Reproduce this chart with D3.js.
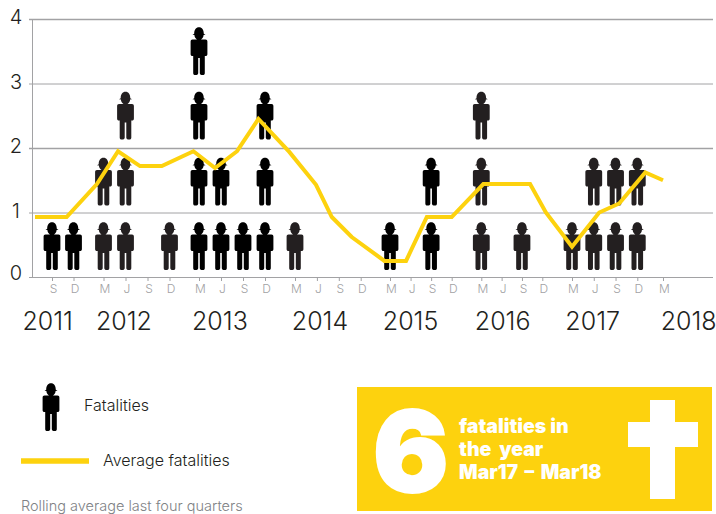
<!DOCTYPE html>
<html>
<head>
<meta charset="utf-8">
<script src="https://cdnjs.cloudflare.com/ajax/libs/d3/7.8.5/d3.min.js"></script>
<style>
  html, body { margin: 0; padding: 0; background: #fff; }
  svg { display: block; font-family: Inter, sans-serif; }
</style>
</head>
<body>
<div id="chart"></div>
<script>
// Quarter labels, starting at Sep 2011 and ending at Mar 2018
const quarters = ["S","D","M","J","S","D","M","J","S","D","M","J","S","D","M","J","S","D","M","J","S","D","M","J","S","D","M"];
// Fatalities for each quarter
const fatalities = [1,1,2,3,0,1,4,2,1,3,1,0,0,0,1,0,2,0,3,0,1,0,1,2,2,2,0];
// Year of each quarter, used for the icon tone
const quarterYears = [2011,2011,2012,2012,2012,2012,2013,2013,2013,2013,2014,2014,2014,2014,2015,2015,2015,2015,2016,2016,2016,2016,2017,2017,2017,2017,2018];
const blackYears = [2011,2013,2015];

// Rolling average, position is in quarter units (the line sits a bit left of the ticks)
const avgQuarter = [-0.79,0.68,1.78,2.66,3.66,4.65,5.81,6.73,7.73,8.7,9.81,10.96,11.68,12.59,13.81,14.78,15.79,17,18.1,20.4,21.12,22,23.25,24.17,25.31,26];
const avgValue = [0.93,0.93,1.44,1.95,1.72,1.72,1.95,1.69,1.95,2.45,1.94,1.43,0.93,0.62,0.25,0.25,0.93,0.93,1.44,1.44,1.0,0.47,1.0,1.14,1.62,1.5];

const years = ["2011","2012","2013","2014","2015","2016","2017","2018"];
const yearQuarter = [-0.2,2.93,6.95,11.14,15,19.05,22.95,27];
const yTicks = [0,1,2,3,4];

const width = 716;
const height = 514;
const yellow = "#fdd20e";

const svg = d3.select("#chart")
    .append("svg")
    .attr("width", width)
    .attr("height", height);

// The quarters are not evenly spaced, there is a wider gap between Dec and Mar
const x = d3.scaleLinear()
    .domain([0,1,2,5,6,9,10,13,14,17,18,21,22,25,26])
    .range([52,73.5,103.5,169.5,199,265,295,360.7,390,451.7,481.3,542.3,572,637.3,663]);

const y = d3.scaleLinear()
    .domain([0,4])
    .range([277,19]);

// Gridlines
svg.append("g")
    .selectAll("line")
    .data(yTicks)
    .join("line")
    .attr("x1", 29)
    .attr("x2", 713)
    .attr("y1", d => y(d) + 0.5)
    .attr("y2", d => y(d) + 0.5)
    .attr("stroke", "#a2a2a4")
    .attr("stroke-width", d => d % 2 === 0 && d > 0 ? 1.5 : 1);

svg.append("line")
    .attr("x1", 32.5).attr("x2", 32.5)
    .attr("y1", y(4)).attr("y2", y(0))
    .attr("stroke", "#a2a2a4");

// Y labels
svg.append("g")
    .selectAll("text")
    .data(yTicks)
    .join("text")
    .attr("x", 16)
    .attr("y", d => d === 0 ? y(d) + 3 : y(d) + 5)
    .attr("text-anchor", "middle")
    .attr("font-size", 20)
    .attr("font-weight", 300)
    .attr("fill", "#231f20")
    .text(d => d);

// Quarter ticks and labels
const quarterAxis = d3.axisBottom(x)
    .tickValues(d3.range(quarters.length))
    .tickSize(4)
    .tickFormat(i => quarters[i]);

const axisG = svg.append("g")
    .attr("transform", "translate(0,277)")
    .call(quarterAxis);

axisG.select(".domain").remove();
axisG.selectAll("line").attr("stroke", "#a2a2a4");
axisG.selectAll("text")
    .attr("x", 1)
    .attr("y", 7)
    .attr("font-family", "Inter, sans-serif")
    .attr("font-size", 12)
    .attr("font-weight", 300)
    .attr("fill", "#a2a2a4");

// Year labels
svg.append("g")
    .selectAll("text")
    .data(years)
    .join("text")
    .attr("x", (d, i) => x(yearQuarter[i]))
    .attr("y", 330)
    .attr("text-anchor", "middle")
    .attr("font-size", 25)
    .attr("font-weight", 300)
    .attr("fill", "#231f20")
    .text(d => d);

// Worker icon, about 17 wide and 48 tall, origin at the middle of the feet
const personPath =
    // hard hat
    "M-6.5,-40.2 L-4.8,-41.2 C-4.8,-45.2 -3,-47.7 0,-47.7 C3,-47.7 4.8,-45.2 4.8,-41.2 L6.5,-40.2 L4.6,-40 " +
    // face, runs into the body
    "C4.6,-38 3.2,-36.4 2,-35.5 " +
    // body and arms
    "L6.5,-35.5 C7.7,-35.5 8.4,-34.7 8.4,-33.5 L8.4,-21 C8.4,-19.6 7.7,-19 6.5,-19 L5.8,-19 " +
    // right leg
    "L5.8,-1.8 C5.8,-0.5 4.8,0 3.6,0 C2.2,0 0.8,-0.5 0.8,-1.8 L0.8,-17 L-0.8,-17 " +
    // left leg
    "L-0.8,-1.8 C-0.8,-0.5 -2.2,0 -3.6,0 C-4.8,0 -5.8,-0.5 -5.8,-1.8 L-5.8,-19 L-6.5,-19 " +
    "C-7.7,-19 -8.4,-19.6 -8.4,-21 L-8.4,-33.5 C-8.4,-34.7 -7.7,-35.5 -6.5,-35.5 L-2,-35.5 " +
    "C-3.2,-36.4 -4.6,-38 -4.6,-40 Z";

const iconData = fatalities.flatMap((count, i) =>
    d3.range(count).map(row => ({ quarter: i, row: row })));

svg.append("g")
    .selectAll("path")
    .data(iconData)
    .join("path")
    .attr("class", "person")
    .attr("d", personPath)
    .attr("transform", d => `translate(${x(d.quarter)},${y(d.row) - (d.row > 1 ? 8.5 : 7)})`)
    .attr("fill", d => blackYears.includes(quarterYears[d.quarter]) ? "#000" : "#231f20");

// Average line
const avgLine = d3.line()
    .x(d => x(d[0]))
    .y(d => y(d[1]));

svg.append("path")
    .datum(d3.zip(avgQuarter, avgValue))
    .attr("d", avgLine)
    .attr("fill", "none")
    .attr("stroke", yellow)
    .attr("stroke-width", 4);

// Legend
svg.append("path")
    .attr("d", personPath)
    .attr("transform", "translate(51,431)")
    .attr("fill", "#000");

svg.append("text")
    .attr("x", 84).attr("y", 411)
    .attr("font-size", 16).attr("font-weight", 300).attr("fill", "#231f20")
    .text("Fatalities");

svg.append("line")
    .attr("x1", 21).attr("x2", 89)
    .attr("y1", 461).attr("y2", 461)
    .attr("stroke", yellow)
    .attr("stroke-width", 5.5);

svg.append("text")
    .attr("x", 103).attr("y", 466)
    .attr("font-size", 16).attr("font-weight", 300).attr("fill", "#231f20")
    .text("Average fatalities");

svg.append("text")
    .attr("x", 21).attr("y", 511)
    .attr("font-size", 14.5).attr("font-weight", 300).attr("fill", "#808285")
    .text("Rolling average last four quarters");

// Yellow callout box
svg.append("rect")
    .attr("x", 357).attr("y", 387)
    .attr("width", 355).attr("height", 124)
    .attr("fill", yellow);

svg.append("text")
    .attr("x", 373).attr("y", 492)
    .attr("font-size", 112).attr("font-weight", 900).attr("fill", "#fff")
    .attr("stroke", "#fff").attr("stroke-width", 2)
    .text("6");

const boxLines = ["fatalities in","the  year","Mar17 \u2013 Mar18"];

svg.append("g")
    .selectAll("text")
    .data(boxLines)
    .join("text")
    .attr("x", 459)
    .attr("y", (d, i) => 433 + i * 23)
    .attr("font-size", 19.5)
    .attr("font-weight", 900)
    .attr("fill", "#fff")
    .attr("word-spacing", (d, i) => i === 2 ? 2.5 : 0)
    .style("white-space", "pre")
    .text(d => d);

// Cross
svg.append("rect").attr("x", 650).attr("y", 400).attr("width", 25).attr("height", 99).attr("fill", "#fff");
svg.append("rect").attr("x", 628).attr("y", 422).attr("width", 70).attr("height", 25).attr("fill", "#fff");
</script>
</body>
</html>
